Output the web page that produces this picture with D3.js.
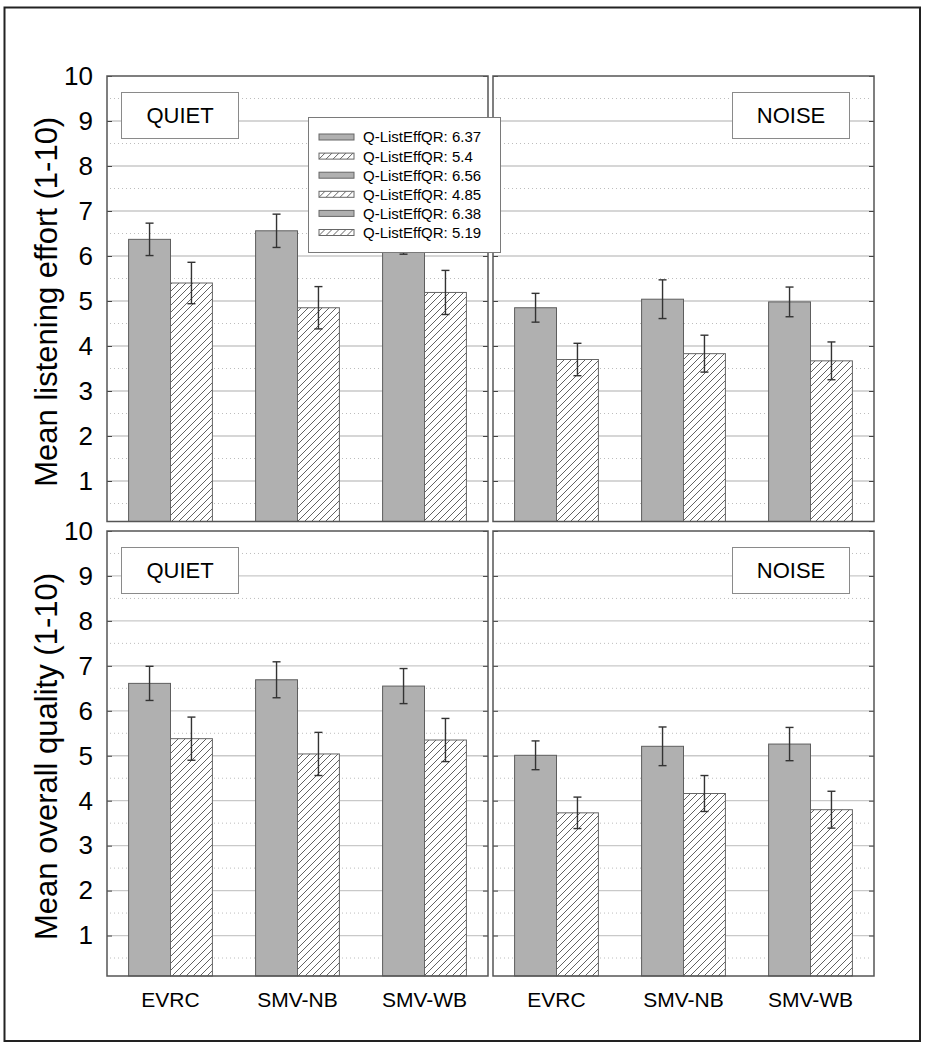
<!DOCTYPE html>
<html>
<head>
<meta charset="utf-8">
<script src="https://cdn.jsdelivr.net/npm/d3@7"></script>
<style>
  html, body { margin: 0; padding: 0; background: #fff; }
  svg { display: block; font-family: "Liberation Sans", Arial, Helvetica, sans-serif; }
</style>
</head>
<body>
<svg id="chart" width="931" height="1050"></svg>
<script>
// ---------------- data ----------------
const codecs = ["EVRC", "SMV-NB", "SMV-WB"];
const yTicks = [1, 2, 3, 4, 5, 6, 7, 8, 9, 10];

const effortQuietUnproc    = [6.37, 6.56, 6.38];
const effortQuietUnprocErr = [0.36, 0.37, 0.34];
const effortQuietProc      = [5.40, 4.85, 5.19];
const effortQuietProcErr   = [0.46, 0.47, 0.49];

const effortNoiseUnproc    = [4.85, 5.04, 4.98];
const effortNoiseUnprocErr = [0.32, 0.43, 0.33];
const effortNoiseProc      = [3.70, 3.83, 3.67];
const effortNoiseProcErr   = [0.36, 0.41, 0.42];

const qualityQuietUnproc    = [6.61, 6.69, 6.55];
const qualityQuietUnprocErr = [0.38, 0.40, 0.39];
const qualityQuietProc      = [5.38, 5.04, 5.35];
const qualityQuietProcErr   = [0.48, 0.48, 0.48];

const qualityNoiseUnproc    = [5.01, 5.21, 5.26];
const qualityNoiseUnprocErr = [0.32, 0.43, 0.37];
const qualityNoiseProc      = [3.73, 4.16, 3.80];
const qualityNoiseProcErr   = [0.35, 0.40, 0.41];

const legendLabels = [
  "Q-ListEffQR: 6.37", "Q-ListEffQR: 5.4", "Q-ListEffQR: 6.56",
  "Q-ListEffQR: 4.85", "Q-ListEffQR: 6.38", "Q-ListEffQR: 5.19"
];
const legendKinds = ["solid", "hatch", "solid", "hatch", "solid", "hatch"];
const rowTitles = ["Mean listening effort (1-10)", "Mean overall quality (1-10)"];
const conditionLabels = ["QUIET", "NOISE"];

// ---------------- layout ----------------
const svg = d3.select("#chart");
const FONT = '"Liberation Sans", Arial, Helvetica, sans-serif';
const GREY = "#b0b0b0";

const defs = svg.append("defs");
const pat = defs.append("pattern")
  .attr("id", "hatch").attr("patternUnits", "userSpaceOnUse")
  .attr("width", 7).attr("height", 7);
pat.append("rect").attr("width", 7).attr("height", 7).attr("fill", "#fff");
pat.append("path").attr("d", "M-1,1 l2,-2 M0,7 l7,-7 M6,8 l2,-2")
  .attr("stroke", "#3a3a3a").attr("stroke-width", 0.8);

// outer frame
svg.append("rect").attr("x", 4.5).attr("y", 7.5).attr("width", 915.5).attr("height", 1033.5)
  .attr("fill", "none").attr("stroke", "#222").attr("stroke-width", 2);

const rowsY = [{top: 76, bottom: 521.5}, {top: 531, bottom: 976}];
const colsX = [{left: 107, right: 488}, {left: 493, right: 874}];

const panelData = [
  [{u: effortQuietUnproc, ue: effortQuietUnprocErr, p: effortQuietProc, pe: effortQuietProcErr},
   {u: effortNoiseUnproc, ue: effortNoiseUnprocErr, p: effortNoiseProc, pe: effortNoiseProcErr}],
  [{u: qualityQuietUnproc, ue: qualityQuietUnprocErr, p: qualityQuietProc, pe: qualityQuietProcErr},
   {u: qualityNoiseUnproc, ue: qualityNoiseUnprocErr, p: qualityNoiseProc, pe: qualityNoiseProcErr}]
];

const halfTicks = d3.range(0.5, 10, 1);

rowsY.forEach((R, ri) => {
  const y = d3.scaleLinear().domain([0.1, 10]).range([R.bottom, R.top]);

  colsX.forEach((C, ci) => {
    const x = d3.scaleBand().domain(codecs).range([C.left, C.right]).padding(0);
    const bw = x.bandwidth() * 0.33;
    const g = svg.append("g");
    const d = panelData[ri][ci];

    g.append("rect").attr("x", C.left).attr("y", R.top)
      .attr("width", C.right - C.left).attr("height", R.bottom - R.top).attr("fill", "#fff");

    // grid
    g.selectAll(".gd").data(halfTicks).join("line")
      .attr("x1", C.left + 3).attr("x2", C.right - 3)
      .attr("y1", v => y(v)).attr("y2", v => y(v))
      .attr("stroke", "#bdbdbd").attr("stroke-width", 1).attr("stroke-dasharray", "1,3");
    g.selectAll(".gs").data(yTicks.filter(v => v < 10)).join("line")
      .attr("x1", C.left).attr("x2", C.right)
      .attr("y1", v => y(v)).attr("y2", v => y(v))
      .attr("stroke", "#c9c9c9").attr("stroke-width", 1.3);

    const cx = c => x(c) + x.bandwidth() / 2;

    // bars
    g.selectAll(".bu").data(codecs).join("rect")
      .attr("x", c => cx(c) - bw).attr("width", bw)
      .attr("y", (c, i) => y(d.u[i])).attr("height", (c, i) => R.bottom - y(d.u[i]))
      .attr("fill", GREY).attr("stroke", "#5e5e5e").attr("stroke-width", 1);
    g.selectAll(".bp").data(codecs).join("rect")
      .attr("x", c => cx(c)).attr("width", bw)
      .attr("y", (c, i) => y(d.p[i])).attr("height", (c, i) => R.bottom - y(d.p[i]))
      .attr("fill", "url(#hatch)").attr("stroke", "#666").attr("stroke-width", 1);

    // error bars
    const errs = [];
    codecs.forEach((c, i) => {
      errs.push({xc: cx(c) - bw / 2, v: d.u[i], e: d.ue[i]});
      errs.push({xc: cx(c) + bw / 2, v: d.p[i], e: d.pe[i]});
    });
    const eg = g.selectAll(".eb").data(errs).join("g").attr("stroke", "#333").attr("stroke-width", 1.4);
    eg.append("line").attr("x1", e => e.xc).attr("x2", e => e.xc)
      .attr("y1", e => y(e.v + e.e)).attr("y2", e => y(e.v - e.e));
    eg.append("line").attr("x1", e => e.xc - 4).attr("x2", e => e.xc + 4)
      .attr("y1", e => y(e.v + e.e)).attr("y2", e => y(e.v + e.e));
    eg.append("line").attr("x1", e => e.xc - 4).attr("x2", e => e.xc + 4)
      .attr("y1", e => y(e.v - e.e)).attr("y2", e => y(e.v - e.e));

    // condition label box
    const bx = ci === 0 ? C.left + 14 : C.right - 142;
    const by = R.top + 16;
    g.append("rect").attr("x", bx + 0.5).attr("y", by + 0.5).attr("width", 117).attr("height", 46)
      .attr("fill", "#fff").attr("stroke", "#8a8a8a").attr("stroke-width", 1);
    g.append("text").attr("x", bx + 59).attr("y", by + 23).attr("dy", "0.36em")
      .attr("text-anchor", "middle").attr("font-size", 22).attr("fill", "#000")
      .text(conditionLabels[ci]);

    // inward ticks both sides
    const axL = d3.axisLeft(y).tickValues(yTicks).tickSizeInner(-5).tickSizeOuter(0)
      .tickPadding(14).tickFormat(ci === 0 ? d3.format("d") : "");
    const gl = g.append("g").attr("transform", `translate(${C.left},0)`).call(axL);
    gl.select(".domain").remove();
    gl.selectAll("line").attr("stroke", "#444");
    gl.selectAll("text").attr("font-size", 26).attr("font-family", FONT).attr("fill", "#000");

    const axR = d3.axisRight(y).tickValues(yTicks).tickSizeInner(-5).tickSizeOuter(0).tickFormat("");
    const gr = g.append("g").attr("transform", `translate(${C.right},0)`).call(axR);
    gr.select(".domain").remove();
    gr.selectAll("line").attr("stroke", "#444");

    // panel border
    g.append("rect").attr("x", C.left).attr("y", R.top)
      .attr("width", C.right - C.left).attr("height", R.bottom - R.top)
      .attr("fill", "none").attr("stroke", "#555").attr("stroke-width", 1.5);

    // category labels on bottom row
    if (ri === 1) {
      const xa = d3.axisBottom(x).tickSize(0).tickPadding(0);
      const gx = svg.append("g").attr("transform", `translate(0,${R.bottom + 31})`).call(xa);
      gx.select(".domain").remove();
      gx.selectAll("text").attr("font-size", 21).attr("font-family", FONT).attr("fill", "#000")
        .attr("dy", "0");
    }
  });

  // row title
  svg.append("text")
    .attr("transform", `translate(57,${(R.top + R.bottom) / 2 + 3}) rotate(-90)`)
    .attr("text-anchor", "middle").attr("font-size", 31).attr("fill", "#000")
    .text(rowTitles[ri]);
});

// legend
const lg = svg.append("g").attr("transform", "translate(308,117)");
lg.append("rect").attr("x", 0.5).attr("y", 0.5).attr("width", 192).attr("height", 135)
  .attr("fill", "#fff").attr("stroke", "#7a7a7a").attr("stroke-width", 1);
const ly = d3.scalePoint().domain(legendLabels).range([20, 115.5]);
const items = lg.selectAll(".li").data(legendLabels).join("g")
  .attr("transform", l => `translate(0,${ly(l)})`);
items.append("rect").attr("x", 11).attr("y", -3).attr("width", 35).attr("height", 6)
  .attr("fill", (l, i) => legendKinds[i] === "solid" ? GREY : "url(#hatch)")
  .attr("stroke", "#666").attr("stroke-width", 1);
items.append("text").attr("x", 55).attr("dy", "0.36em").attr("font-size", 15).attr("fill", "#000")
  .text(l => l);
</script>
</body>
</html>
